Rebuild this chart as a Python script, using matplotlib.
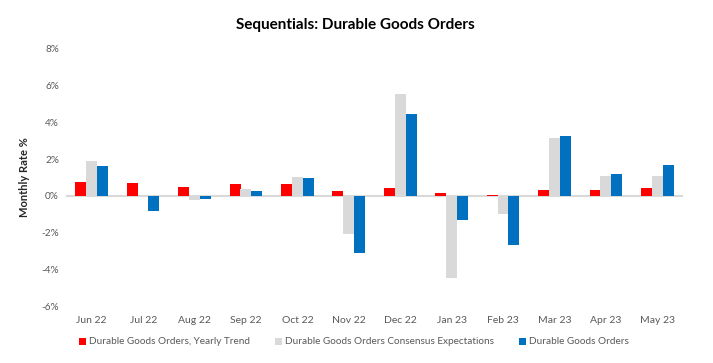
import matplotlib
matplotlib.use("Agg")
import matplotlib.pyplot as plt
import numpy as np

months = ["Jun 22", "Jul 22", "Aug 22", "Sep 22", "Oct 22", "Nov 22", "Dec 22",
          "Jan 23", "Feb 23", "Mar 23", "Apr 23", "May 23"]
yearly_trend = [0.78, 0.72, 0.5, 0.65, 0.65, 0.27, 0.45, 0.16, 0.05, 0.33, 0.33, 0.45]
consensus = [1.88, 0.0, -0.2, 0.38, 1.0, -2.1, 5.55, -4.45, -1.0, 3.15, 1.1, 1.1]
actual = [1.6, -0.8, -0.15, 0.27, 0.95, -3.1, 4.45, -1.3, -2.7, 3.27, 1.2, 1.7]
yticks = [-6, -4, -2, 0, 2, 4, 6, 8]

plt.rcParams['font.family'] = ['Lato', 'DejaVu Sans']

fig = plt.figure(figsize=(7.13, 3.63), dpi=100)
ax = fig.add_axes([66/713, 1-306/363, (683-66)/713, (306-49)/363])

x = np.arange(len(months))
w = 0.215
ax.bar(x - w*0.98, yearly_trend, w, color="#ff0000", label="Durable Goods Orders, Yearly Trend")
ax.bar(x + 0.0, consensus, w, color="#d9d9d9", label="Durable Goods Orders Consensus Expectations")
ax.bar(x + w*0.98, actual, w, color="#0070c0", label="Durable Goods Orders")

ax.set_xlim(-0.5, len(months) - 0.5)
ax.set_ylim(-6, 8)
ax.set_yticks(yticks)
ax.set_yticklabels([f"{v}%" for v in yticks], color="#595959", fontsize=7.2)
ax.set_xticks(x)
ax.set_xticklabels(months, color="#595959", fontsize=7.5)
ax.tick_params(axis="both", length=0)
ax.tick_params(axis="x", pad=7)
ax.tick_params(axis="y", pad=5)
for s in ax.spines.values():
    s.set_visible(False)
ax.axhline(0, color="#d9d9d9", lw=1.5, zorder=0)

ax.set_ylabel("Monthly Rate %", fontsize=8, fontweight="bold", color="#262626", labelpad=8)
fig.text(355/713, 1-25/363, "Sequentials: Durable Goods Orders", ha="center", va="center",
         fontsize=11, fontweight="bold", color="#000000")

leg = fig.legend(loc="center", bbox_to_anchor=(354/713, 1-342/363), ncol=3, frameon=False,
                 fontsize=7.2, handlelength=0.7, handleheight=0.7, columnspacing=2.5,
                 handletextpad=0.3)
for t in leg.get_texts():
    t.set_color("#595959")

fig.savefig("out.png", dpi=100)
